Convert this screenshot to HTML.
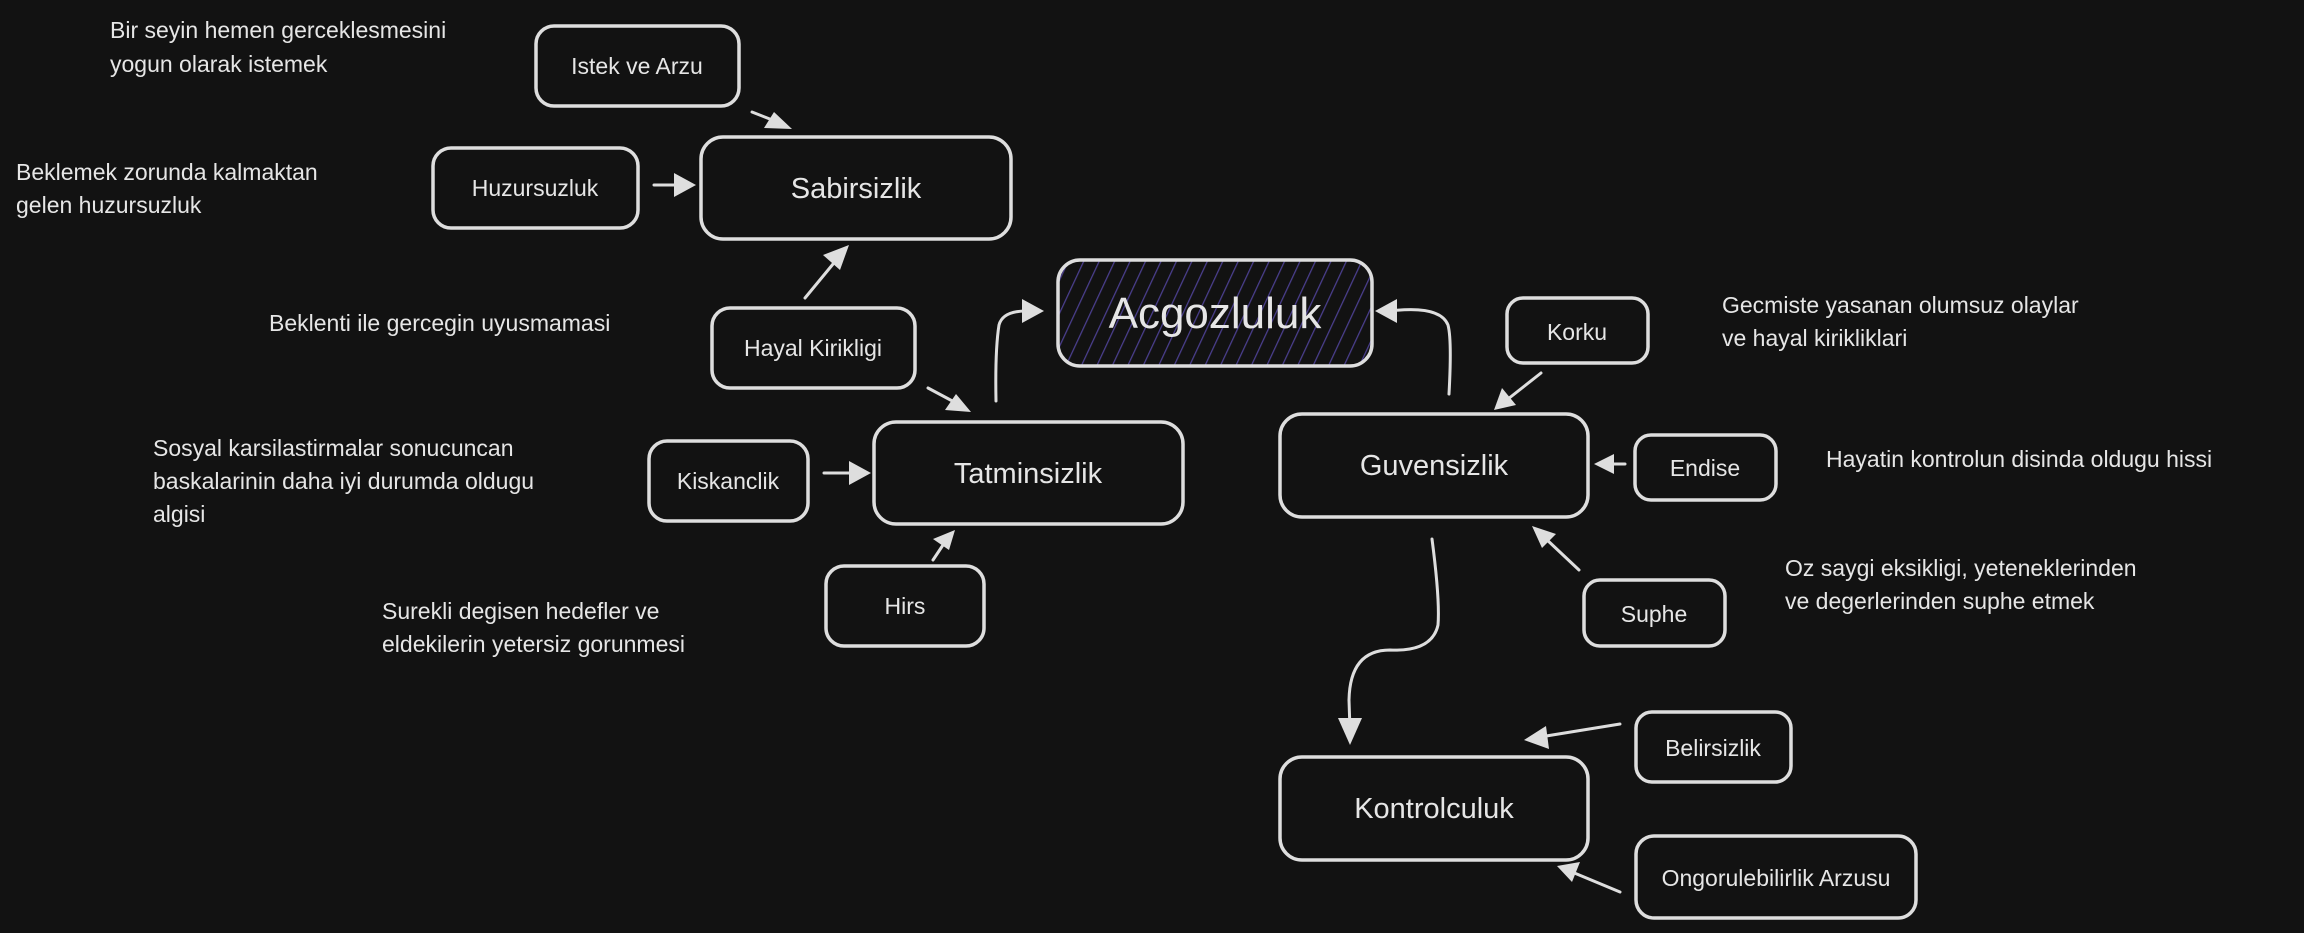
<!DOCTYPE html>
<html><head><meta charset="utf-8"><style>
html,body{margin:0;padding:0;background:#121212;}
svg{display:block;}
text{font-family:"Liberation Sans Narrow","Liberation Sans",sans-serif;fill:#e6e6e6;}
</style></head><body>
<svg width="2304" height="933" viewBox="0 0 2304 933" xmlns="http://www.w3.org/2000/svg">
<defs>
<pattern id="h" patternUnits="userSpaceOnUse" width="14" height="14" patternTransform="rotate(25)">
<rect width="14" height="14" fill="#121212"/>
<line x1="0" y1="0" x2="0" y2="14" stroke="#4b3f8f" stroke-width="2.5"/>
</pattern>
</defs>
<g fill="none" stroke="#dedede" stroke-width="3.5">
<rect x="536" y="26" width="203" height="80" rx="18"/>
<rect x="433" y="148" width="205" height="80" rx="18"/>
<rect x="701" y="137" width="310" height="102" rx="22"/>
<rect x="1058" y="260" width="314" height="106" rx="22" fill="url(#h)"/>
<rect x="712" y="308" width="203" height="80" rx="18"/>
<rect x="874" y="422" width="309" height="102" rx="22"/>
<rect x="649" y="441" width="159" height="80" rx="18"/>
<rect x="826" y="566" width="158" height="80" rx="18"/>
<rect x="1507" y="298" width="141" height="65" rx="16"/>
<rect x="1280" y="414" width="308" height="103" rx="22"/>
<rect x="1635" y="435" width="141" height="65" rx="16"/>
<rect x="1584" y="580" width="141" height="66" rx="16"/>
<rect x="1636" y="712" width="155" height="70" rx="16"/>
<rect x="1280" y="757" width="308" height="103" rx="22"/>
<rect x="1636" y="836" width="280" height="82" rx="18"/>
</g>
<g fill="none" stroke="#dedede" stroke-width="3" stroke-linecap="round">
<path d="M752 112 L780 123"/>
<path d="M654 185 L682 185"/>
<path d="M805 298 L838 258"/>
<path d="M928 388 L958 404"/>
<path d="M996 401 Q995 350 999 325 Q1003 310 1030 311"/>
<path d="M824 473 L856 473"/>
<path d="M933 560 L945 542"/>
<path d="M1449 394 Q1452 340 1448 325 Q1440 305 1390 311"/>
<path d="M1541 373 L1508 399"/>
<path d="M1625 464 L1607 464"/>
<path d="M1579 570 L1545 538"/>
<path d="M1432 539 Q1440 600 1438 625 Q1432 652 1390 650 Q1350 650 1349 700 L1350 730"/>
<path d="M1620 724 L1540 737"/>
<path d="M1620 892 L1572 872"/>
</g>
<g fill="#dedede">
<polygon points="792,129 764,128 774,112"/>
<polygon points="696,185 674,173 674,197"/>
<polygon points="849,245 823,255 840,270"/>
<polygon points="971,412 945,410 956,394"/>
<polygon points="1044,311 1022,299 1022,323"/>
<polygon points="871,473 849,461 849,485"/>
<polygon points="955,530 933,539 949,550"/>
<polygon points="1375,311 1397,299 1397,323"/>
<polygon points="1494,410 1502,388 1516,405"/>
<polygon points="1594,464 1614,454 1614,474"/>
<polygon points="1532,526 1556,534 1542,548"/>
<polygon points="1350,745 1338,718 1362,718"/>
<polygon points="1524,740 1546,726 1549,749"/>
<polygon points="1557,866 1580,862 1572,882"/>
</g>
<g font-size="23" text-anchor="middle">
<text x="637" y="74">Istek ve Arzu</text>
<text x="535" y="196">Huzursuzluk</text>
<text x="856" y="198" font-size="29">Sabirsizlik</text>
<text x="1215" y="328" font-size="44">Acgozluluk</text>
<text x="813" y="356">Hayal Kirikligi</text>
<text x="1028" y="483" font-size="29">Tatminsizlik</text>
<text x="728" y="489">Kiskanclik</text>
<text x="905" y="614">Hirs</text>
<text x="1577" y="340">Korku</text>
<text x="1434" y="475" font-size="29">Guvensizlik</text>
<text x="1705" y="476">Endise</text>
<text x="1654" y="622">Suphe</text>
<text x="1713" y="756">Belirsizlik</text>
<text x="1434" y="818" font-size="29">Kontrolculuk</text>
<text x="1776" y="886">Ongorulebilirlik Arzusu</text>
</g>
<g font-size="23">
<text x="110" y="38">Bir seyin hemen gerceklesmesini</text>
<text x="110" y="72">yogun olarak istemek</text>
<text x="16" y="180">Beklemek zorunda kalmaktan</text>
<text x="16" y="213">gelen huzursuzluk</text>
<text x="269" y="331">Beklenti ile gercegin uyusmamasi</text>
<text x="153" y="456">Sosyal karsilastirmalar sonucuncan</text>
<text x="153" y="489">baskalarinin daha iyi durumda oldugu</text>
<text x="153" y="522">algisi</text>
<text x="382" y="619">Surekli degisen hedefler ve</text>
<text x="382" y="652">eldekilerin yetersiz gorunmesi</text>
<text x="1722" y="313">Gecmiste yasanan olumsuz olaylar</text>
<text x="1722" y="346">ve hayal kirikliklari</text>
<text x="1826" y="467">Hayatin kontrolun disinda oldugu hissi</text>
<text x="1785" y="576">Oz saygi eksikligi, yeteneklerinden</text>
<text x="1785" y="609">ve degerlerinden suphe etmek</text>
</g>
</svg>
</body></html>
